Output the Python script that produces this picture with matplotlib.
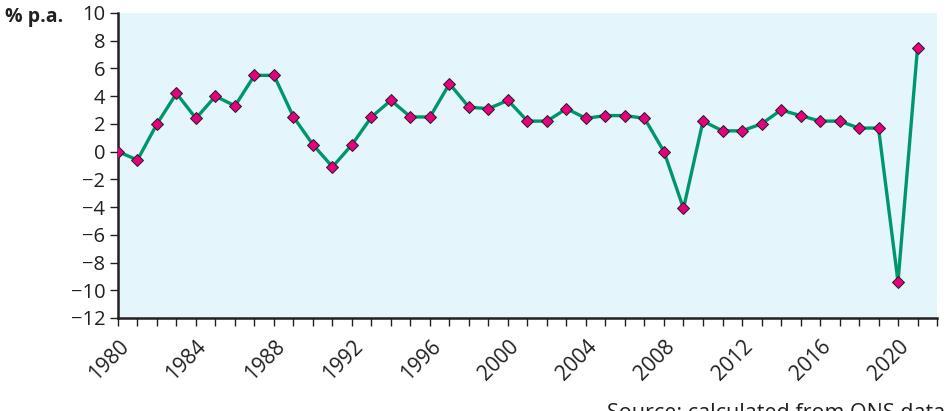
"""Annual % change chart, 1980-2021."""

import matplotlib
import numpy as np

matplotlib.use("Agg")
import matplotlib.pyplot as plt

plt.rcParams["font.family"] = ["Open Sans", "DejaVu Sans"]

years = list(range(1980, 2022))
growth = [0.0, -0.6, 2.0, 4.2, 2.4, 4.0, 3.3, 5.5, 5.5, 2.5,
          0.5, -1.1, 0.5, 2.5, 3.7, 2.5, 2.5, 4.9, 3.2, 3.1,
          3.7, 2.2, 2.2, 3.1, 2.4, 2.6, 2.6, 2.4, 0.0, -4.1,
          2.2, 1.5, 1.5, 2.0, 3.0, 2.6, 2.2, 2.2, 1.7, 1.7,
          -9.4, 7.5]
year_labels = list(range(1980, 2021, 4))
y_ticks = list(range(-12, 11, 2))

ink = "#231f20"

fig = plt.figure(figsize=(9.46, 4.11), dpi=100)
ax = fig.add_axes([0.1247, 0.2263, 0.8658, 0.7421])
ax.set_facecolor("#e4f5fc")

ax.plot(years, growth, "-", color="#00966c", linewidth=2.4, zorder=2)
ax.plot(years, growth, "D", markerfacecolor="#e5007d", markeredgecolor=ink,
        markeredgewidth=0.7, markersize=6.5, linestyle="none", zorder=3)

ax.set_xlim(1980, 2022)
ax.set_ylim(-12, 10)
ax.set_yticks(y_ticks)
ax.set_yticklabels([str(v).replace("-", "\u2212") for v in y_ticks])
ax.set_xticks(years + [2022], minor=False)
ax.set_xticklabels([str(y) if y in year_labels else "" for y in years + [2022]],
                   rotation=45, ha="right", rotation_mode="anchor")

for side in ("top", "right"):
    ax.spines[side].set_visible(False)
for side in ("left", "bottom"):
    ax.spines[side].set_color(ink)
    ax.spines[side].set_linewidth(1.8)

ax.tick_params(axis="both", direction="out", length=6, width=1.0, color=ink,
               labelcolor=ink, labelsize=14.5)
ax.tick_params(axis="x", pad=7, labelsize=15)
ax.tick_params(axis="y", pad=3)

fig.text(5 / 946, 1 - 22 / 411, "% p.a.", fontsize=14, fontweight="bold",
         color=ink, va="baseline", ha="left")
fig.text(607 / 946, 1 - 403 / 411, "Source: calculated from ONS data",
         fontsize=15.5, color=ink, va="top", ha="left")

fig.savefig("out.png", dpi=100)
plt.close()
